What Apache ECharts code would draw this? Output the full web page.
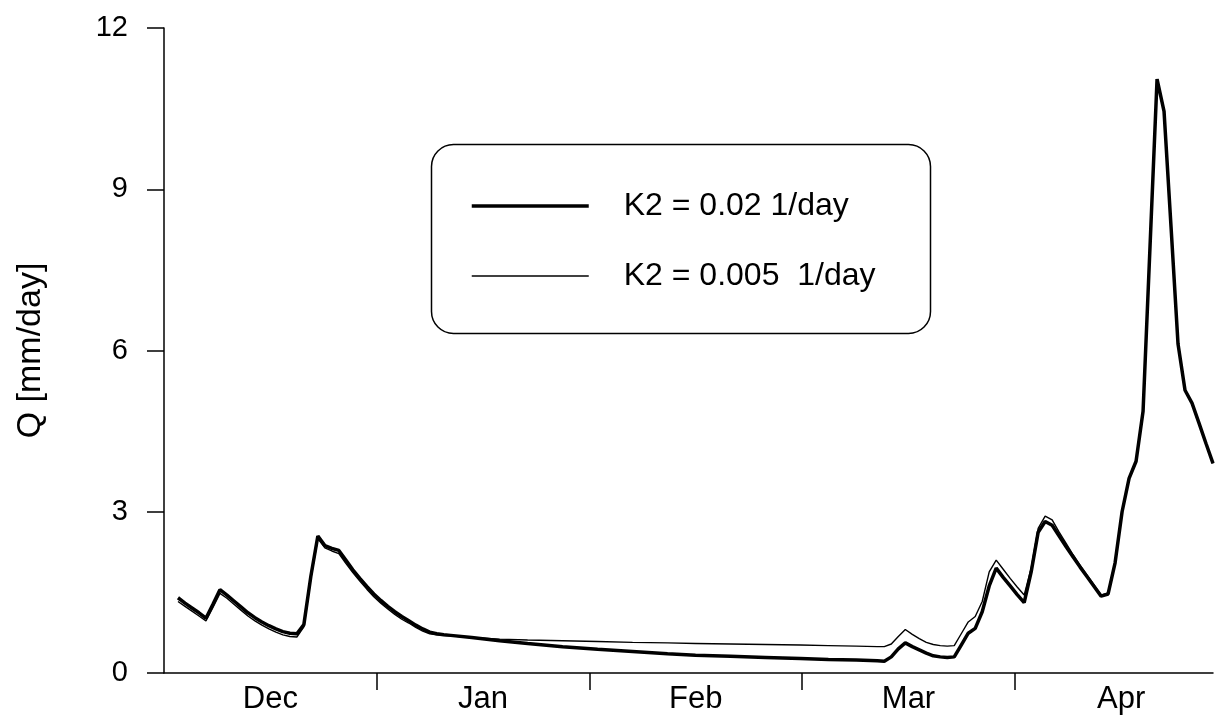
<!DOCTYPE html>
<html>
<head>
<meta charset="utf-8">
<script src="https://cdn.jsdelivr.net/npm/echarts@6/dist/echarts.min.js"></script>
<style>
  html, body { margin: 0; padding: 0; background: #fff; }
  #chart { width: 1216px; height: 726px; }
</style>
</head>
<body>
<div id="chart"></div>
<script>
// day counted from 1 Dec, month ticks every 365/12 days
var days = [2, 3, 4, 5, 6, 7, 8, 9, 10, 11, 12, 13, 14, 15, 16, 17, 18, 19, 20,
  21, 22, 23, 24, 25, 26, 27, 28, 29, 30, 31, 32, 33, 34, 35, 36, 37, 38, 39, 40, 41,
  44, 48, 52, 57, 62, 67, 72, 76, 81, 86, 91, 95, 99, 102, 103,
  104, 105, 106, 107, 108, 109, 110, 111, 112, 113, 114, 115, 116, 117, 118, 119, 120,
  121, 122, 123, 124, 125, 126, 127, 128, 129, 130, 131, 132, 133, 134, 135, 136, 137,
  138, 139, 140, 141, 142, 143, 144, 145, 146, 147, 148, 149, 150];

var qK2_002 = [1.40, 1.30, 1.21, 1.12, 1.02, 1.28, 1.55, 1.45, 1.34, 1.23, 1.12, 1.03, 0.95, 0.88, 0.82, 0.77, 0.74, 0.73, 0.90,
  1.80, 2.55, 2.37, 2.32, 2.28, 2.10, 1.92, 1.76, 1.61, 1.47, 1.35, 1.24, 1.14, 1.05, 0.97, 0.89, 0.82, 0.76, 0.73, 0.71, 0.70,
  0.66, 0.60, 0.55, 0.49, 0.44, 0.40, 0.36, 0.33, 0.31, 0.29, 0.27, 0.25, 0.24, 0.23, 0.22,
  0.30, 0.45, 0.56, 0.49, 0.43, 0.37, 0.32, 0.30, 0.29, 0.30, 0.52, 0.74, 0.83, 1.14, 1.62, 1.95, 1.78,
  1.62, 1.46, 1.31, 1.88, 2.62, 2.82, 2.75, 2.55, 2.35, 2.16, 1.97, 1.79, 1.61, 1.43, 1.47, 2.05, 3.00,
  3.62, 3.94, 4.87, 7.95, 11.05, 10.45, 8.30, 6.12, 5.26, 5.02, 4.65, 4.27, 3.90];

var qK2_0005 = [1.33, 1.24, 1.15, 1.06, 0.97, 1.22, 1.48, 1.39, 1.28, 1.17, 1.06, 0.97, 0.89, 0.82, 0.76, 0.71, 0.68, 0.67, 0.86,
  1.76, 2.50, 2.33, 2.27, 2.22, 2.04, 1.87, 1.71, 1.56, 1.42, 1.30, 1.19, 1.09, 1.00, 0.93, 0.85, 0.78, 0.73, 0.71, 0.70, 0.69,
  0.66, 0.63, 0.615, 0.60, 0.585, 0.57, 0.56, 0.55, 0.54, 0.53, 0.52, 0.51, 0.50, 0.49, 0.49,
  0.54, 0.68, 0.81, 0.72, 0.64, 0.57, 0.53, 0.51, 0.50, 0.51, 0.73, 0.95, 1.05, 1.33, 1.88, 2.10, 1.93,
  1.76, 1.60, 1.45, 1.95, 2.69, 2.92, 2.85, 2.62, 2.41, 2.20, 2.00, 1.82, 1.64, 1.45, 1.49, 2.07, 3.00,
  3.62, 3.94, 4.87, 7.95, 11.05, 10.45, 8.30, 6.12, 5.26, 5.02, 4.65, 4.27, 3.90];

var months = ['Dec', 'Jan', 'Feb', 'Mar', 'Apr'];
var monthLen = 365 / 12;
var seriesNames = ['K2 = 0.02 1/day', 'K2 = 0.005  1/day'];

function pairs(xs, ys) {
  var out = [];
  for (var i = 0; i < xs.length; i++) out.push([xs[i], ys[i]]);
  return out;
}

var tickDays = [1, 2, 3, 4].map(function (k) { return k * monthLen; });
var labelDays = months.map(function (m, k) { return (k + 0.5) * monthLen; });

var font = 'Liberation Sans, Arial, sans-serif';
var chart = echarts.init(document.getElementById('chart'));

var option = {
  animation: false,
  backgroundColor: '#fff',
  grid: { left: 164, right: 3, top: 28, bottom: 53, outerBoundsMode: 'none' },
  graphic: [{
    type: 'rect',
    left: 429, top: 142,
    shape: { width: 499, height: 189, r: 22 },
    style: { fill: 'none', stroke: '#000', lineWidth: 1.5 },
    z: 5
  }],
  legend: {
    orient: 'vertical',
    left: 470, top: 190,
    padding: 0,
    itemWidth: 117,
    itemHeight: 30,
    itemGap: 38,
    itemStyle: { opacity: 0 },
    textStyle: { fontFamily: font, fontSize: 32, color: '#000', padding: [0, 0, 0, 30] },
    data: [
      { name: seriesNames[0], lineStyle: { width: 3.5, color: '#000' } },
      { name: seriesNames[1], lineStyle: { width: 1.5, color: '#000' } }
    ]
  },
  xAxis: {
    type: 'value',
    min: 0, max: 150,
    splitLine: { show: false },
    axisLine: { lineStyle: { color: '#000', width: 1.5 } },
    axisTick: { customValues: tickDays, length: 17, lineStyle: { color: '#000', width: 1.5 } },
    axisLabel: {
      customValues: labelDays,
      margin: 11,
      fontFamily: font, fontSize: 31, color: '#000',
      formatter: function (v) { return months[Math.round(v / monthLen - 0.5)]; }
    }
  },
  yAxis: {
    type: 'value',
    min: 0, max: 12, interval: 3,
    name: 'Q [mm/day]',
    nameLocation: 'middle',
    nameGap: 116,
    nameTextStyle: { fontFamily: font, fontSize: 34, color: '#000' },
    splitLine: { show: false },
    axisLine: { show: true, lineStyle: { color: '#000', width: 1.5 } },
    axisTick: { show: true, length: 17, lineStyle: { color: '#000', width: 1.5 } },
    axisLabel: { margin: 36, fontFamily: font, fontSize: 29, color: '#000' }
  },
  series: [
    {
      name: seriesNames[0],
      type: 'line',
      symbol: 'none',
      lineStyle: { color: '#000', width: 3.5 },
      itemStyle: { color: '#000' },
      data: pairs(days, qK2_002)
    },
    {
      name: seriesNames[1],
      type: 'line',
      symbol: 'none',
      lineStyle: { color: '#000', width: 1.4 },
      itemStyle: { color: '#000' },
      data: pairs(days, qK2_0005)
    }
  ]
};

chart.setOption(option);
</script>
</body>
</html>
